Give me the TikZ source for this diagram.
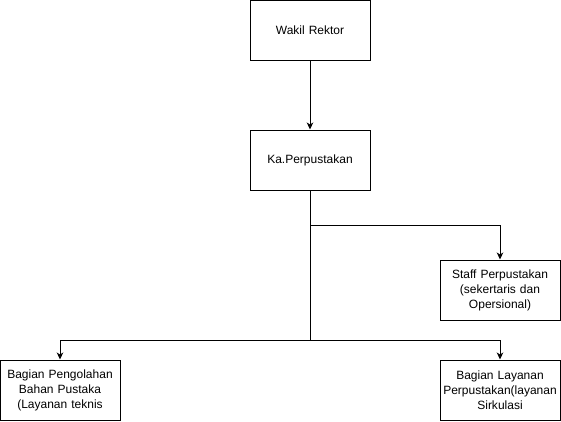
\documentclass[tikz,border=0pt]{standalone}
\usepackage{fontspec}
\setmainfont{Liberation Sans}
\usetikzlibrary{arrows.meta}

\begin{document}
\begin{tikzpicture}[x=1pt, y=-1pt,
		box/.style={draw, line width=1pt, minimum width=120pt, minimum height=60pt, inner sep=0pt, text width=118pt, align=center, font=\fontsize{12}{15}\selectfont},
		arr/.style={line width=1pt, -{Stealth[length=7pt, width=6.5pt, inset=2pt]}}]
			\useasboundingbox (0,0) rectangle (561,421);
			\node[box] (wakil) at (310,30) {Wakil Rektor};
			\node[box] (ka) at (310,160) {Ka.Perpustakan};
			\node[box] (staff) at (500,290) {Staff Perpustakan\\(sekertaris dan\\Opersional)};
			\node[box] (olah) at (60,390) {Bagian Pengolahan\\Bahan Pustaka\\(Layanan teknis};
			\node[box] (layan) at (500,390) {Bagian Layanan\\Perpustakan(layanan\\Sirkulasi};
			\coordinate (j1) at (310,225);
			\coordinate (j2) at (310,340);
			\draw[arr] (wakil) -- (ka);
			\draw[arr] (ka) -- (j1) -| (staff);
			\draw[arr] (ka) -- (j2) -| (olah);
			\draw[arr] (ka) -- (j2) -| (layan);
		\end{tikzpicture}
\end{document}
